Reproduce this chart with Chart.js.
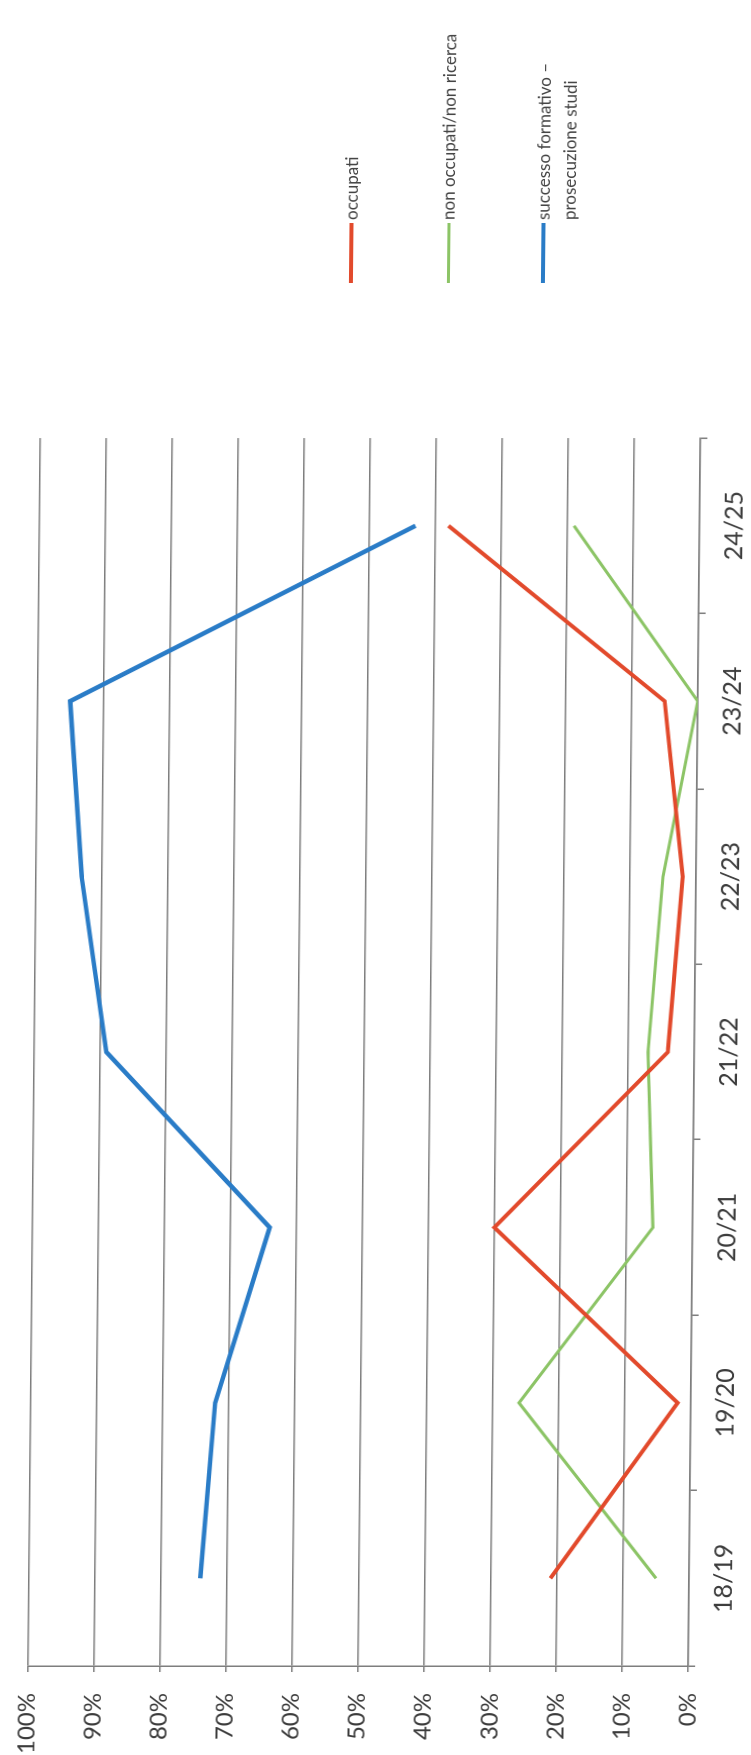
<!DOCTYPE html>
<html>
<head>
<meta charset="utf-8">
<title>Esiti a distanza</title>
<script src="https://cdn.jsdelivr.net/npm/chart.js@4.4.1/dist/chart.umd.min.js"></script>
<style>
    html, body { margin: 0; padding: 0; background: #fff; }
    body { width: 751px; height: 1755px; overflow: hidden; position: relative; }
    /* the chart is laid out landscape, then stood on its side */
    #frame {
        position: absolute;
        left: -502px;
        top: 502px;
        width: 1755px;
        height: 751px;
        transform-origin: 50% 50%;
        transform: skewX(-0.57deg) rotate(-90deg);
    }
    #frame canvas { position: absolute; left: 0; top: 0; }
    .key {
        position: absolute;
        left: 1472px;
        display: flex;
        align-items: flex-start;
        font: 17px Lato, sans-serif;
        line-height: 26px;
        color: #444;
        white-space: pre;
    }
    .key i { display: block; width: 60px; margin-right: 3px; }
</style>
</head>
<body>
<div id="frame">
    <canvas id="esitiChart" width="1755" height="751"></canvas>
    <div id="legend"></div>
</div>
<script>
// School years on the category axis
const anni = ['18/19', '19/20', '20/21', '21/22', '22/23', '23/24', '24/25'];

// Share of leavers per outcome, in percent
const occupati = [21, 2, 30, 4, 2, 5, 38];
const nonOccupati = [5, 26, 6, 7, 5, 0, 19];
const successoFormativo = [74, 72, 64, 89, 93, 95, 43];

const serieNomi = ['occupati', 'non occupati/non ricerca', 'successo formativo –\nprosecuzione studi'];
const serieColori = ['#e24a2c', '#8cc466', '#2a7cc7'];
const serieSpessori = [4, 3, 4.5];

// Value axis: 0% .. 100% every 10
const percentuali = [0, 10, 20, 30, 40, 50, 60, 70, 80, 90, 100];

const gridColor = '#7d7d7d';
const tickFont = { family: 'Lato, sans-serif', size: 24 };

const ctx = document.getElementById('esitiChart').getContext('2d');

const esitiChart = new Chart(ctx, {
    type: 'line',
    data: {
        labels: anni,
        datasets: [occupati, nonOccupati, successoFormativo].map((valori, i) => ({
            label: serieNomi[i],
            data: valori,
            borderColor: serieColori[i],
            backgroundColor: serieColori[i],
            borderWidth: serieSpessori[i],
            pointRadius: 0,
            tension: 0,
            fill: false
        }))
    },
    options: {
        responsive: false,
        animation: false,
        devicePixelRatio: 1,
        layout: {
            padding: { top: 31.5, right: 438, bottom: 0, left: 0 }
        },
        scales: {
            x: {
                type: 'category',
                offset: true,
                grid: {
                    offset: true,
                    drawOnChartArea: false,
                    drawTicks: true,
                    tickLength: 7,
                    color: gridColor,
                    lineWidth: 1.5
                },
                border: { display: true, color: gridColor, width: 1.5 },
                ticks: {
                    font: { family: 'Lato, sans-serif', size: 25 },
                    color: '#3c3c3c',
                    padding: 13,
                    maxRotation: 0,
                    autoSkip: false
                },
                afterFit: function(scale) { scale.height = 55; }
            },
            y: {
                min: 0,
                max: 100,
                afterBuildTicks: function(scale) {
                    scale.ticks = percentuali.map(v => ({ value: v }));
                },
                grid: {
                    drawTicks: true,
                    tickLength: 6,
                    color: gridColor,
                    lineWidth: 1.5
                },
                border: { display: true, color: gridColor, width: 1.5 },
                ticks: {
                    font: tickFont,
                    color: '#3c3c3c',
                    padding: 21,
                    callback: function(value) { return value + '%'; }
                },
                afterFit: function(scale) { scale.width = 89; }
            }
        },
        plugins: {
            legend: { display: false },
            tooltip: { enabled: false }
        }
    }
});

// Legend on the right side, built from the datasets
const legendCenters = [345, 442, 537];
const legend = document.getElementById('legend');
esitiChart.data.datasets.forEach((ds, i) => {
    const item = document.createElement('div');
    item.className = 'key';
    item.style.top = (legendCenters[i] - 13) + 'px';
    const line = document.createElement('i');
    line.style.background = ds.borderColor;
    line.style.height = ds.borderWidth + 'px';
    line.style.marginTop = (13 - ds.borderWidth / 2) + 'px';
    const text = document.createElement('span');
    text.textContent = ds.label;
    item.appendChild(line);
    item.appendChild(text);
    legend.appendChild(item);
});
</script>
</body>
</html>
